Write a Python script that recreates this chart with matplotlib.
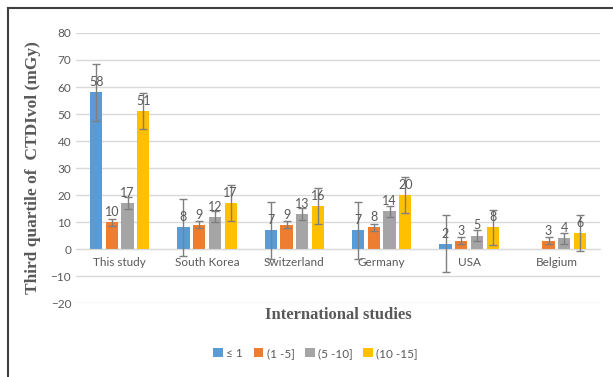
import numpy as np
import matplotlib.pyplot as plt
from matplotlib.lines import Line2D

# Study groups and CTDIvol third quartile per BMI/age class
countries = ['This study', 'South Korea', 'Switzerland', 'Germany', 'USA', 'Belgium']
classes = ['≤ 1', '(1 -5]', '(5 -10]', '(10 -15]']
q3_le1 = [58, 8, 7, 7, 2, np.nan]
q3_1_5 = [10, 9, 9, 8, 3, 3]
q3_5_10 = [17, 12, 13, 14, 5, 4]
q3_10_15 = [51, 17, 16, 20, 8, 6]

# Error bar half-lengths per series
err_le1 = [10.5, 10.5, 10.5, 10.5, 10.5, np.nan]
err_1_5 = [1.3, 1.3, 1.3, 1.3, 1.3, 1.3]
err_5_10 = [2.1, 2.1, 2.1, 2.1, 2.1, 2.1]
err_10_15 = [6.6, 6.6, 6.6, 6.6, 6.6, 6.6]

series = [q3_le1, q3_1_5, q3_5_10, q3_10_15]
errors = [err_le1, err_1_5, err_5_10, err_10_15]
colors = ['#5B9BD5', '#ED7D31', '#A5A5A5', '#FFC000']

txt = '#595959'
plt.rcParams['font.family'] = ['Lato', 'DejaVu Sans']

fig = plt.figure(figsize=(6.13, 3.77), dpi=100)
ax = fig.add_axes([0.124, 0.196, 0.855, 0.7165])

x = np.arange(len(countries))
w = 0.14
step = 0.18
for i, (vals, err, c, lab) in enumerate(zip(series, errors, colors, classes)):
    pos = x + (i - 1.5) * step
    ax.bar(pos, vals, width=w, color=c, label=lab, zorder=2)
    ax.errorbar(pos, vals, yerr=err, fmt='none', ecolor='#7F7F7F',
                elinewidth=1, capsize=3, capthick=1, zorder=3)
    for p, v in zip(pos, vals):
        if np.isnan(v):
            continue
        ax.annotate(f'{v:g}', (p, v), xytext=(0, 3), textcoords='offset points',
                    ha='center', va='bottom', fontsize=9, color=txt, zorder=4)

ax.set_xlim(-0.5, len(countries) - 0.5)
ax.set_ylim(-20, 80)
ax.set_yticks(range(-20, 81, 10))
ax.grid(axis='y', color='#D9D9D9', linewidth=1, zorder=0)
ax.set_axisbelow(True)
for s in ['top', 'right', 'left']:
    ax.spines[s].set_visible(False)
ax.spines['bottom'].set_position(('data', 0))
ax.spines['bottom'].set_color('#D9D9D9')
ax.set_xticks(x)
ax.set_xticklabels(countries)
ax.tick_params(axis='both', length=0, labelsize=8.5, labelcolor=txt)
ax.tick_params(axis='x', pad=6)

ax.set_ylabel('Third quartile of  CTDIvol (mGy)', family='Liberation Serif',
              fontweight='bold', fontsize=12.5, color=txt, labelpad=7)
fig.text(0.552, 0.165, 'International studies', family='Liberation Serif',
         fontweight='bold', fontsize=12, color=txt, ha='center', va='center')

fig.legend(loc='center', bbox_to_anchor=(0.515, 0.063), ncol=4, frameon=False,
           fontsize=8.5, labelcolor=txt, handlelength=0.8, handleheight=0.8,
           handletextpad=0.3, columnspacing=0.9)

# Outer frame lines
fig.add_artist(Line2D([0.013, 1.0], [0.979, 0.979], color='#404040', linewidth=1.5))
fig.add_artist(Line2D([0.013, 0.013], [0.0, 0.979], color='#404040', linewidth=1.5))

fig.savefig('out.png', dpi=100)
